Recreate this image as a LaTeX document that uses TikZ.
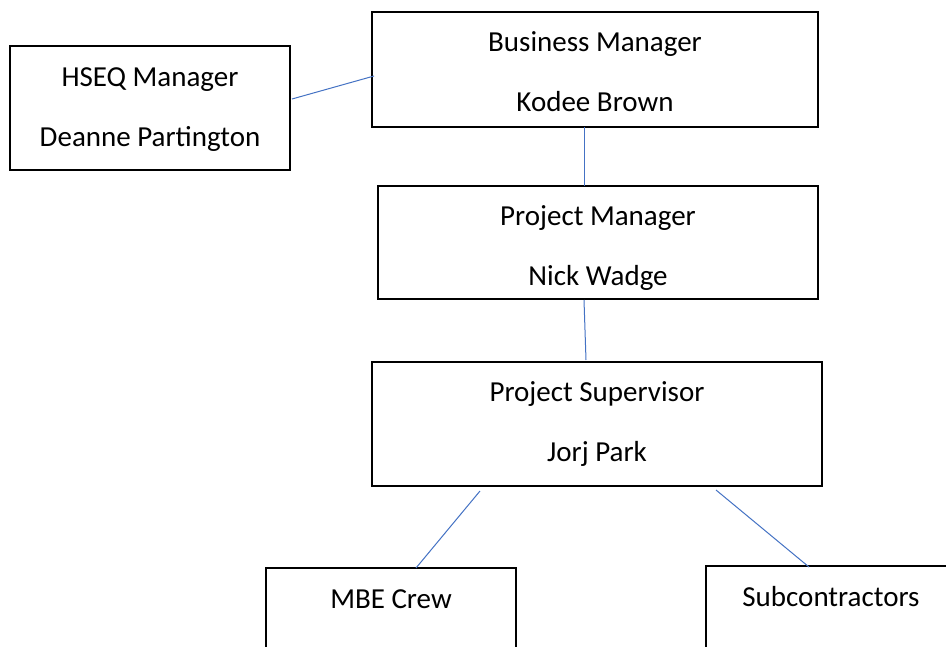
\documentclass[tikz,border=0pt]{standalone}
\usepackage{fontspec}
\setmainfont{Carlito}
\usetikzlibrary{calc}
\definecolor{linkblue}{RGB}{68,114,196}
\tikzset{
  box/.style={draw=black, line width=1.5pt, rectangle, inner sep=0pt, outer sep=0pt},
  two/.style={inner sep=0pt, align=center, font=\fontsize{29}{60}\selectfont},
  lbl/.style={inner sep=0pt, font=\fontsize{29}{35}\selectfont},
  link/.style={draw=linkblue, line width=1pt}
}
\begin{document}
\begin{tikzpicture}[x=1pt,y=-1pt]
\useasboundingbox (0,0) rectangle (946,646);
\fill[white] (0,0) rectangle (946,646);
\clip (0,0) rectangle (946,646);
\node[box, minimum width=280pt, minimum height=124pt] (hseq) at (150,108) {};
\node[box, minimum width=446pt, minimum height=115pt] (bm) at (595,69.5) {};
\node[box, minimum width=440pt, minimum height=113pt] (pm) at (598,242.5) {};
\node[box, minimum width=450pt, minimum height=124pt] (ps) at (597,424) {};
\node[box, minimum width=250pt, minimum height=200pt, anchor=north] (mbe) at (391,568) {};
\node[box, minimum width=250pt, minimum height=200pt, anchor=north] (sub) at (831,566) {};
\node[two] (hseqt) at ($(hseq.center)+(0,2)$) {HSEQ Manager\\Deanne Partington};
\node[two] (bmt) at ($(bm.center)+(0,2)$) {Business Manager\\Kodee Brown};
\node[two] (pmt) at ($(pm.center)+(0,6)$) {Project Manager\\Nick Wadge};
\node[two] (pst) at (ps.center) {Project Supervisor\\Jorj Park};
\node[lbl] (mbet) at ($(mbe.north)+(0,31)$) {MBE Crew};
\node[lbl] (subt) at ($(sub.north)+(0,31)$) {Subcontractors};
\draw[link] ($(hseq.east)+(2,-9)$) -- ($(bm.west)+(2,6.5)$);
\draw[link] ($(bm.south)+(-11,0)$) -- ($(pm.north)+(-14,0)$);
\draw[link] ($(pm.south)+(-14,1)$) -- ($(ps.north)+(-11,-2)$);
\draw[link] ($(ps.south)+(-117,5)$) -- ($(mbe.north)+(25,0)$);
\draw[link] ($(ps.south)+(119,4)$) -- ($(sub.north)+(-22,1)$);
\end{tikzpicture}
\end{document}
